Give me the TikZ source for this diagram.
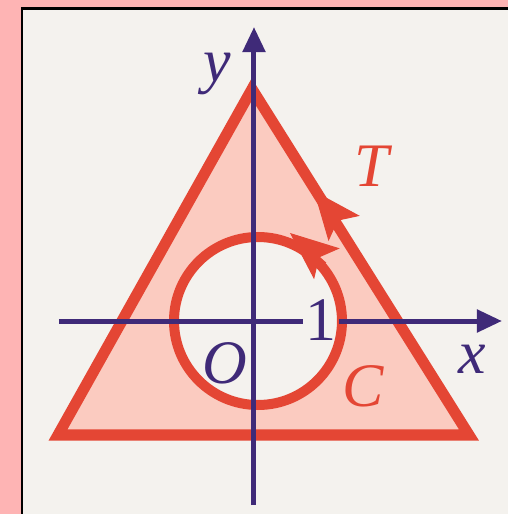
\documentclass[tikz,border=0pt]{standalone}
\usepackage{fontspec}
\setmainfont{Liberation Serif}
\usetikzlibrary{arrows.meta}
\definecolor{bgpink}{HTML}{FEB4B4}
\definecolor{panel}{HTML}{F4F2EE}
\definecolor{redc}{HTML}{E44634}
\definecolor{redfill}{HTML}{FBCBC0}
\definecolor{axiscol}{HTML}{3F2A78}
\tikzset{
  lab/.style={font=\fontsize{17.6}{20}\selectfont\itshape, inner sep=0pt, anchor=base},
  numlab/.style={font=\fontsize{17.6}{20}\selectfont, inner sep=0pt, anchor=base},
  axisline/.style={draw=axiscol, line width=0.05cm, -{Triangle[length=0.25cm, width=0.22cm]}},
  redline/.style={draw=redc, line join=miter},
  headtip/.style={redc, line width=0.01cm, -{Stealth[length=0.48cm, width=0.40cm, inset=0.10cm]}},
}
\begin{document}
\begin{tikzpicture}[x=0.01cm, y=0.01cm]
\useasboundingbox (0,0) rectangle (508,514);
\clip (0,0) rectangle (508,514);
\fill[bgpink] (0,0) rectangle (508,514);
\filldraw[fill=panel, draw=black, line width=0.027cm] (22,-30) rectangle (540,505.3);

% triangle T
\coordinate (A) at (252,425);
\coordinate (B) at (58,79);
\coordinate (Cv) at (469,79);
\filldraw[redline, fill=redfill, line width=0.11cm] (A) -- (B) -- (Cv) -- cycle;

% circle C
\coordinate (cc) at (258,193);
\filldraw[redline, fill=panel, line width=0.10cm] (cc) circle[radius=84];

% arrow heads
\coordinate (tback) at (343,287);
\coordinate (ttip) at (314,323);
\draw[headtip] (tback) -- (ttip);
\coordinate (cback) at (326,251);
\coordinate (ctip) at (290,281);
\draw[headtip] (cback) -- (ctip);

% labels
\node[numlab, text=axiscol, inner xsep=0.015cm] (one) at (321,174) {1};

% axes
\coordinate (xl) at (59,193);
\coordinate (xr) at (502,193);
\coordinate (yb) at (254,9);
\coordinate (yt) at (254,487);
\draw[axisline] (xl) -- (xl -| one.west) (xl -| one.east) -- (xr);
\draw[axisline] (yb) -- (yt);

\node[lab, text=axiscol] (ylab) at (217,433) {y};
\node[lab, text=axiscol] (xlab) at (472,141) {x};
\node[lab, text=axiscol] (olab) at (225,131) {O};
\node[lab, text=redc] (tlab) at (372,328) {T};
\node[lab, text=redc] (clab) at (363,107) {C};
\end{tikzpicture}
\end{document}
